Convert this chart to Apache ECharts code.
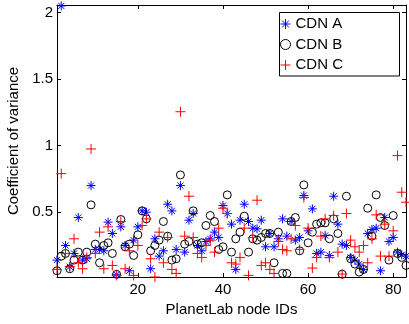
<!DOCTYPE html>
<html>
<head>
<meta charset="utf-8">
<script src="https://cdn.jsdelivr.net/npm/echarts@6/dist/echarts.min.js"></script>
<style>
html,body{margin:0;padding:0;background:#fff;}
#chart{width:409px;height:324px;}
</style>
</head>
<body>
<div id="chart"></div>
<script>
// node IDs 1..83
const nodeIds = Array.from({length: 83}, (_, k) => k + 1);

const cdnA = [0.14,2.05,0.25,0.09,0.19,0.46,0.14,0.15,0.70,0.22,
  0.22,0.21,0.425,0.34,0.03,0.39,0.25,0.06,0.29,0.39,
  0.51,0.50,0.075,0.30,0.17,0.21,0.56,0.51,0.22,0.70,
  0.20,0.44,0.49,0.25,0.21,0.28,0.30,0.35,0.31,0.55,
  0.49,0.41,0.07,0.44,0.56,0.43,0.38,0.375,0.44,0.24,
  0.34,0.24,0.30,0.45,0.32,0.43,0.29,0.31,0.625,0.36,
  0.525,0.19,0.20,0.325,0.175,0.62,0.41,0.26,0.25,0.16,
  0.14,0.11,0.07,0.34,0.37,0.38,0.06,0.46,0.28,0.31,
  0.20,0.18,0.17];

const cdnB = [0.06,0.17,0.19,0.075,0.14,0.20,0.14,0.20,0.555,0.26,
  0.12,0.25,0.27,0.19,0.033,0.445,0.24,0.26,0.175,0.33,
  0.51,0.45,0.21,0.25,0.29,0.43,0.32,0.14,0.15,0.78,
  0.26,0.28,0.51,0.26,0.27,0.40,0.475,0.43,0.22,0.24,
  0.63,0.20,0.30,0.35,0.47,0.20,0.30,0.29,0.31,0.34,
  0.34,0.12,0.35,0.04,0.04,0.43,0.46,0.21,0.705,0.27,
  0.35,0.41,0.42,0.42,0.30,0.45,0.34,0.034,0.62,0.15,
  0.11,0.05,0.07,0.53,0.32,0.63,0.46,0.40,0.14,0.475,
  0.19,0.16,0.10];

const cdnC = [0.07,0.79,0.19,0.09,0.30,0.12,0.075,0.16,0.975,0.19,
  0.35,0.075,0.39,0.10,0.025,0.43,0.075,0.21,0.025,0.25,
  0.40,0.45,0.15,0.013,0.35,0.12,0.31,0.07,0.04,1.255,
  0.32,0.62,0.31,0.19,0.16,0.25,0.29,0.20,0.38,0.53,
  0.49,0.12,0.11,0.16,0.38,0.025,0.31,0.59,0.10,0.12,
  0.07,0.04,0.28,0.22,0.21,0.30,0.40,0.22,0.61,0.38,
  0.08,0.16,0.32,0.45,0.16,0.475,0.20,0.035,0.49,0.29,
  0.24,0.20,0.25,0.12,0.30,0.48,0.17,0.41,0.17,0.36,
  0.925,0.65,0.575];

const seriesNames = ['CDN A', 'CDN B', 'CDN C'];
const xTicks = [20, 40, 60, 80];
const yTicks = [0.5, 1, 1.5, 2];

const pair = (vals) => nodeIds.map((id, k) => [id, vals[k]]);

const starPath = 'path://M0,5L10,5M5,0L5,10M1.6,1.6L8.4,8.4M8.4,1.6L1.6,8.4';
const plusPath = 'path://M0,5L10,5M5,0L5,10';

const FONT = 'Liberation Sans, Arial, Helvetica, sans-serif';
const xMin = 1, xMax = 83, yMin = 0.013, yMax = 2.057;

const chart = echarts.init(document.getElementById('chart'), null, {renderer: 'canvas'});

const axisLineStyle = {show: true, lineStyle: {color: '#000', width: 1}};

chart.setOption({
  animation: false,
  backgroundColor: '#fff',
  grid: {left: 57, right: 3, top: 5, bottom: 47, containLabel: false, outerBoundsMode: 'none'},
  xAxis: [{
    type: 'value', min: xMin, max: xMax, position: 'bottom',
    axisLine: axisLineStyle,
    axisTick: {show: true, inside: true, length: 4, customValues: xTicks, lineStyle: {color: '#000'}},
    axisLabel: {customValues: xTicks, color: '#000', fontFamily: FONT, fontSize: 15, margin: 5},
    splitLine: {show: false},
    name: 'PlanetLab node IDs', nameLocation: 'middle', nameGap: 24,
    nameTextStyle: {color: '#000', fontFamily: FONT, fontSize: 15}
  }, {
    type: 'value', min: xMin, max: xMax, position: 'top',
    axisLine: axisLineStyle,
    axisTick: {show: true, inside: true, length: 4, customValues: xTicks, lineStyle: {color: '#000'}},
    axisLabel: {show: false},
    splitLine: {show: false}
  }],
  yAxis: [{
    type: 'value', min: yMin, max: yMax, position: 'left',
    axisLine: axisLineStyle,
    axisTick: {show: true, inside: true, length: 4, customValues: yTicks, lineStyle: {color: '#000'}},
    axisLabel: {customValues: yTicks, color: '#000', fontFamily: FONT, fontSize: 15, margin: 4},
    splitLine: {show: false},
    name: 'Coefficient of variance', nameLocation: 'middle', nameGap: 35,
    nameTextStyle: {color: '#000', fontFamily: FONT, fontSize: 15}
  }, {
    type: 'value', min: yMin, max: yMax, position: 'right',
    axisLine: axisLineStyle,
    axisTick: {show: true, inside: true, length: 4, customValues: yTicks, lineStyle: {color: '#000'}},
    axisLabel: {show: false},
    splitLine: {show: false}
  }],
  graphic: [{
    type: 'rect', z: 50,
    shape: {x: 279.5, y: 12.5, width: 120, height: 63.5},
    style: {fill: '#fff', stroke: '#000', lineWidth: 1}
  }],
  legend: {
    z: 60,
    orient: 'vertical', left: 280, top: 16.5, padding: 0,
    itemWidth: 10, itemHeight: 10, itemGap: 5.5,
    textStyle: {color: '#000', fontFamily: FONT, fontSize: 15, lineHeight: 15},
    data: [
      {name: seriesNames[0], icon: starPath, itemStyle: {color: '#0000ff', borderColor: '#0000ff', borderWidth: 1}},
      {name: seriesNames[1], icon: 'circle', itemStyle: {color: 'rgba(0,0,0,0)', borderColor: '#000', borderWidth: 1}},
      {name: seriesNames[2], icon: plusPath, itemStyle: {color: '#ff0000', borderColor: '#ff0000', borderWidth: 1}}
    ]
  },
  series: [{
    name: seriesNames[0], type: 'scatter', data: pair(cdnA), clip: true,
    symbol: starPath, symbolSize: 9,
    itemStyle: {color: '#0000ff', borderColor: '#0000ff', borderWidth: 1, opacity: 1}
  }, {
    name: seriesNames[1], type: 'scatter', data: pair(cdnB), clip: true,
    symbol: 'circle', symbolSize: 8,
    itemStyle: {color: 'rgba(0,0,0,0)', borderColor: '#000', borderWidth: 1, opacity: 1}
  }, {
    name: seriesNames[2], type: 'scatter', data: pair(cdnC), clip: true,
    symbol: plusPath, symbolSize: 10,
    itemStyle: {color: '#ff0000', borderColor: '#ff0000', borderWidth: 1, opacity: 1}
  }]
});
</script>
</body>
</html>
